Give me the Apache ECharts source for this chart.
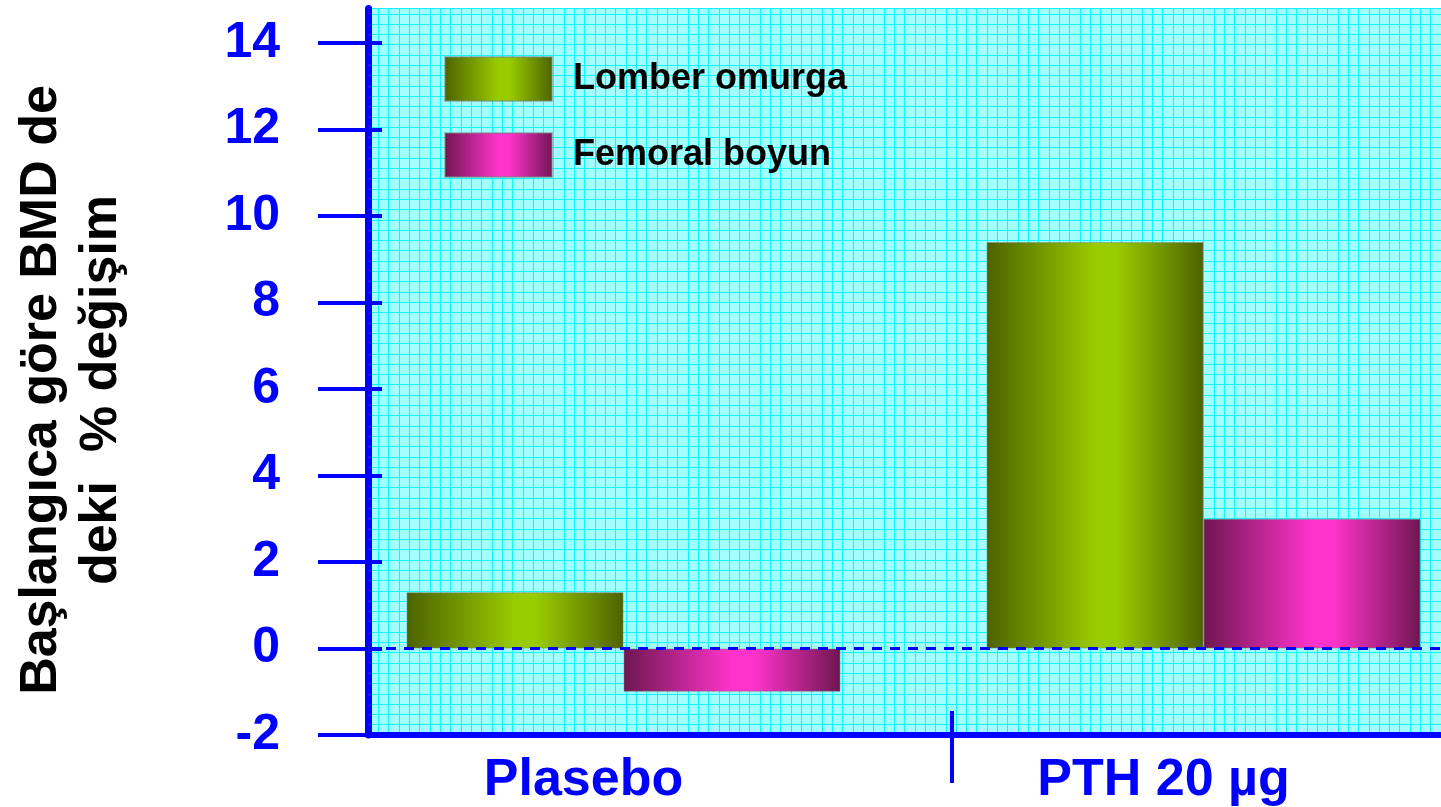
<!DOCTYPE html>
<html>
<head>
<meta charset="utf-8">
<script src="https://cdn.jsdelivr.net/npm/echarts@6/dist/echarts.min.js"></script>
<style>
  html, body { margin: 0; padding: 0; background: #fff; }
  #chart { width: 1441px; height: 807px; }
</style>
</head>
<body>
<div id="chart"></div>
<script>
// veriler
const categories = ['Plasebo', 'PTH 20 µg'];
const seriesNames = ['Lomber omurga', 'Femoral boyun'];
const lomberValues = [1.3, 9.4];
const femoralValues = [-1.0, 3.0];
const yTicks = [-2, 0, 2, 4, 6, 8, 10, 12, 14];
const yTitle = 'Başlangıca göre BMD de\ndeki  % değişim';

const FONT = '"Liberation Sans", Arial, sans-serif';
const BLUE = '#0000ff';
const MESH = '#0ff4ff';

const chart = echarts.init(document.getElementById('chart'));

function barGradient(edge, mid) {
    return new echarts.graphic.LinearGradient(0, 0, 1, 0, [
        { offset: 0, color: edge },
        { offset: 0.5, color: mid },
        { offset: 0.6, color: mid },
        { offset: 1, color: edge }
    ]);
}

const option = {
    backgroundColor: '#ffffff',
    animation: false,
    grid: [
        // görünen eksenler ve camgöbeği zemin; kategori sınırı x=1 (sağ kenar 2'nin öncesinde kesilir)
        { left: 368, right: 0, top: 8.6, bottom: 72, show: true, backgroundColor: '#a3ffff', borderWidth: 0 },
        // çubuklar: kategori noktaları grid kenarlarında (boundaryGap false)
        { left: 623.5, width: 580, top: 8.6, bottom: 72 }
    ],
    legend: {
        orient: 'vertical',
        left: 444,
        top: 56,
        padding: 0,
        icon: 'rect',
        itemWidth: 107,
        itemHeight: 44,
        itemGap: 30,
        data: seriesNames,
        textStyle: {
            fontFamily: FONT,
            fontSize: 36,
            fontWeight: 'bold',
            color: '#000',
            padding: [0, 0, 0, 16]
        }
    },
    graphic: [{
        type: 'text',
        x: 72,
        y: 390,
        rotation: Math.PI / 2,
        style: {
            text: yTitle,
            align: 'center',
            verticalAlign: 'middle',
            fontFamily: FONT,
            fontSize: 52,
            fontWeight: 'bold',
            lineHeight: 60,
            fill: '#000'
        }
    }],
    xAxis: [
        {
            gridIndex: 0, type: 'value', position: 'bottom', min: 0, max: 1.839, z: 5,
            axisLine: { show: true, onZero: false, lineStyle: { color: BLUE, width: 6 } },
            axisTick: { show: true, customValues: [1], length: 48, lineStyle: { color: BLUE, width: 4 } },
            axisLabel: { show: false },
            splitLine: { show: false }
        },
        {
            gridIndex: 0, type: 'value', position: 'bottom', min: 0, max: 1.839, z: 5,
            axisLine: { show: false, onZero: false },
            axisTick: { show: true, inside: true, customValues: [1], length: 24, lineStyle: { color: BLUE, width: 4 } },
            axisLabel: { show: false },
            splitLine: { show: false }
        },
        {
            // arka plandaki ince ızgara
            gridIndex: 0, type: 'value', position: 'bottom', min: 0, max: 104, interval: 1,
            axisLine: { show: false, onZero: false }, axisTick: { show: false }, axisLabel: { show: false },
            splitLine: { show: true, lineStyle: { color: MESH, width: 1 } }
        },
        {
            gridIndex: 1, type: 'category', position: 'bottom', data: categories, boundaryGap: false,
            axisLine: { show: false, onZero: false },
            axisTick: { show: false },
            axisLabel: {
                color: BLUE,
                fontFamily: FONT,
                fontSize: 52,
                fontWeight: 'bold',
                margin: 20,
                padding: [0, 80, 0, 0]
            },
            splitLine: { show: false }
        }
    ],
    yAxis: [
        {
            gridIndex: 0, type: 'value', position: 'left', min: -2, max: 14.8, z: 5,
            axisLine: { show: true, onZero: false, lineStyle: { color: BLUE, width: 7 } },
            axisTick: { show: true, customValues: yTicks, length: 50, lineStyle: { color: BLUE, width: 4 } },
            axisLabel: {
                customValues: yTicks,
                color: BLUE,
                fontFamily: FONT,
                fontSize: 50,
                fontWeight: 'bold',
                margin: 88
            },
            splitLine: { show: false }
        },
        {
            gridIndex: 0, type: 'value', position: 'left', min: -2, max: 14.8, z: 5,
            axisLine: { show: false, onZero: false },
            axisTick: { show: true, inside: true, customValues: yTicks, length: 14, lineStyle: { color: BLUE, width: 4 } },
            axisLabel: { show: false },
            splitLine: { show: false }
        },
        {
            gridIndex: 0, type: 'value', position: 'left', min: 0, max: 70.5, interval: 1,
            axisLine: { show: false, onZero: false }, axisTick: { show: false }, axisLabel: { show: false },
            splitLine: { show: true, lineStyle: { color: MESH, width: 1 } }
        },
        {
            gridIndex: 1, type: 'value', position: 'left', min: -2, max: 14.8, show: false
        }
    ],
    series: [
        {
            // sıfır çizgisi (kesikli)
            type: 'line',
            xAxisIndex: 0,
            yAxisIndex: 0,
            data: [],
            markLine: {
                silent: true,
                symbol: 'none',
                z: 6,
                label: { show: false },
                lineStyle: { color: BLUE, type: [10, 8], width: 3 },
                data: [{ yAxis: 0 }]
            }
        },
        {
            name: seriesNames[0],
            type: 'bar',
            xAxisIndex: 3,
            yAxisIndex: 3,
            barWidth: 217,
            barGap: '0%',
            clip: false,
            data: lomberValues,
            itemStyle: {
                color: barGradient('#4d6200', '#99cc00'),
                borderColor: 'rgba(120,130,130,0.5)',
                borderWidth: 1
            }
        },
        {
            name: seriesNames[1],
            type: 'bar',
            xAxisIndex: 3,
            yAxisIndex: 3,
            barWidth: 217,
            barGap: '0%',
            clip: false,
            data: femoralValues,
            itemStyle: {
                color: barGradient('#6e1650', '#ff33cc'),
                borderColor: 'rgba(120,130,130,0.5)',
                borderWidth: 1
            }
        }
    ]
};

chart.setOption(option);
</script>
</body>
</html>
